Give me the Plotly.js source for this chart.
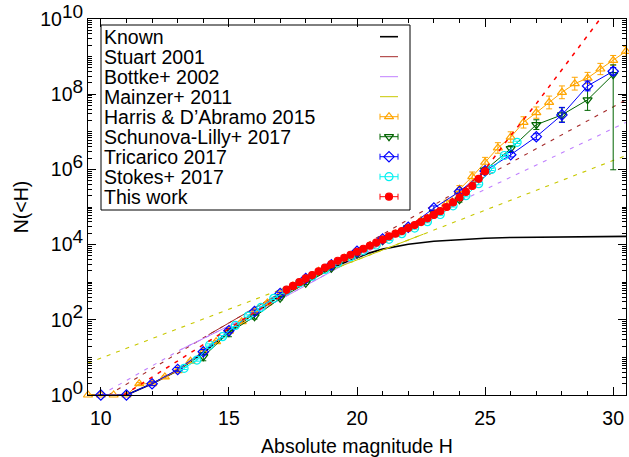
<!DOCTYPE html>
<html><head><meta charset="utf-8">
<script src="https://cdn.plot.ly/plotly-3.0.1.min.js"></script>
<style>html,body{margin:0;padding:0;background:#fff}#chart{width:629px;height:457px}</style>
</head><body><div id="chart"></div>
<script>
// ---- Data: H and log10 N(<H) ----
const knownH    = [9.5, 10, 11, 12, 13, 14, 15, 16, 17, 18, 19, 19.5, 20, 20.5, 21, 21.5, 22, 23, 24, 25, 26, 27, 28, 29, 30, 30.5];
const knownLogN = [0, 0, 0, 0.3, 0.65, 1.12, 1.68, 2.18, 2.64, 3.02, 3.38, 3.52, 3.65, 3.78, 3.88, 3.95, 4.01, 4.09, 4.14, 4.17, 4.19, 4.2, 4.21, 4.22, 4.22, 4.22];

const stuartH    = [10.3, 14.2, 18, 23.5, 30.5];
const stuartLogN = [0, 1.6, 3.1, 5.25, 7.85];
const stuartSolid = [1, 2];          // index range drawn solid

const bottkeH    = [10, 13.1, 16, 20.8, 23.8, 30.5];
const bottkeLogN = [0, 1.2, 2.17, 3.95, 5.08, 7.25];
const bottkeSolid = [1, 3];

const mainzerH    = [9.5, 17, 22.6, 30.5];
const mainzerLogN = [0.85, 2.8, 4.28, 6.37];
const mainzerSolid = [1, 2];

const harrisH    = [9.5, 10, 10.5, 11, 11.5, 12, 12.5, 13, 13.5, 14, 14.5, 15, 15.5, 16, 16.5, 17, 17.5, 18, 18.5, 19, 19.5, 20, 20.5, 21, 21.5, 22, 22.5, 23, 23.5, 24, 24.5, 25, 25.5, 26, 26.5, 27, 27.5, 28, 28.5, 29, 29.5, 30, 30.5];
const harrisLogN = [0, 0, 0, 0, 0.3, 0.3, 0.48, 0.65, 0.9, 1.15, 1.42, 1.7, 1.95, 2.2, 2.45, 2.68, 2.9, 3.1, 3.29, 3.47, 3.64, 3.8, 3.96, 4.12, 4.28, 4.45, 4.64, 4.85, 5.1, 5.47, 5.81, 6.19, 6.57, 6.86, 7.25, 7.51, 7.78, 8.05, 8.28, 8.43, 8.67, 8.9, 9.14];
const harrisErr  = [0, 0, 0, 0, 0.03, 0.03, 0.03, 0.03, 0.03, 0.03, 0.03, 0.03, 0.03, 0.03, 0.03, 0.03, 0.03, 0.03, 0.03, 0.03, 0.03, 0.03, 0.03, 0.03, 0.03, 0.04, 0.05, 0.06, 0.08, 0.1, 0.12, 0.13, 0.14, 0.14, 0.15, 0.15, 0.17, 0.17, 0.17, 0.15, 0.15, 0.13, 0.13];

const schunovaH     = [14, 15, 16, 17, 18, 19, 20, 21, 22, 23, 24, 25, 26, 27, 28, 29, 30];
const schunovaLogN  = [1.02, 1.66, 2.08, 2.57, 2.97, 3.37, 3.75, 4.1, 4.45, 4.85, 5.19, 5.98, 6.55, 7.19, 7.45, 7.85, 8.52];
const schunovaErrUp = [0.11, 0.11, 0.06, 0.04, 0.03, 0.03, 0.03, 0.03, 0.03, 0.04, 0.06, 0.06, 0.08, 0.13, 0.19, 0.28, 0.26];
const schunovaErrDn = [0.11, 0.11, 0.06, 0.04, 0.03, 0.03, 0.03, 0.03, 0.03, 0.04, 0.06, 0.06, 0.08, 0.13, 0.19, 0.28, 2.53];

const tricaricoH    = [10, 11, 12, 13, 14, 15, 16, 17, 18, 19, 20, 21, 22, 23, 24, 25, 26, 27, 28, 29, 30];
const tricaricoLogN = [0, 0, 0.3, 0.68, 1.15, 1.71, 2.22, 2.7, 3.1, 3.46, 3.82, 4.15, 4.46, 4.97, 5.41, 5.96, 6.39, 6.87, 7.45, 8.22, 8.61];
const tricaricoErr  = [0, 0, 0.05, 0.05, 0.06, 0.05, 0.04, 0.03, 0.03, 0.03, 0.03, 0.03, 0.04, 0.06, 0.05, 0.05, 0.06, 0.08, 0.2, 0.13, 0.1];

const stokesH    = [13.25, 13.75, 14.25, 14.75, 15.25, 15.75, 16.25, 16.75, 17.25, 17.75, 18.25, 18.75, 19.25, 19.75, 20.25, 20.75, 21.25, 21.75, 22.25, 22.75, 23.25, 23.75, 24.25, 24.75, 25.25, 25.75, 26.25];
const stokesLogN = [0.71, 0.93, 1.33, 1.55, 1.85, 2.1, 2.33, 2.57, 2.78, 2.98, 3.16, 3.34, 3.51, 3.68, 3.84, 3.99, 4.14, 4.29, 4.44, 4.61, 4.8, 5.03, 5.3, 5.62, 6.0, 6.37, 6.72];

const thisH    = [17.25, 17.5, 17.75, 18, 18.25, 18.5, 18.75, 19, 19.25, 19.5, 19.75, 20, 20.25, 20.5, 20.75, 21, 21.25, 21.5, 21.75, 22, 22.25, 22.5, 22.75, 23, 23.25, 23.5, 23.75, 24, 24.25, 24.5, 24.75, 25];
const thisLogN = [2.8, 2.9, 3.0, 3.1, 3.19, 3.29, 3.39, 3.48, 3.57, 3.65, 3.73, 3.81, 3.89, 3.97, 4.05, 4.13, 4.22, 4.29, 4.36, 4.44, 4.52, 4.6, 4.7, 4.79, 4.89, 5.0, 5.12, 5.25, 5.4, 5.56, 5.75, 5.95];

const fitH    = [10.9, 12, 13, 14, 15, 16, 17, 18, 19, 20, 21, 22, 23, 24, 25, 26, 27, 28, 29, 29.6];
const fitLogN = [0, 0.47, 0.9, 1.33, 1.77, 2.2, 2.6, 3.0, 3.4, 3.8, 4.15, 4.5, 4.88, 5.35, 6.0, 6.9, 7.75, 8.65, 9.55, 10.1];

const xTicks = [10, 15, 20, 25, 30];
const yTickExp = [0, 2, 4, 6, 8, 10];

const legendNames = ['Known', 'Stuart 2001', 'Bottke+ 2002', 'Mainzer+ 2011', 'Harris &amp; D\u2019Abramo 2015', 'Schunova-Lilly+ 2017', 'Tricarico 2017', 'Stokes+ 2017', 'This work'];

// ---- helpers ----
const pw = a => a.map(v => Math.pow(10, v));
const eUp = (lg, e) => lg.map((v, i) => Math.pow(10, v) * (Math.pow(10, e[i]) - 1));
const eDn = (lg, e) => lg.map((v, i) => Math.pow(10, v) * (1 - Math.pow(10, -e[i])));
const sl = (a, r) => a.slice(r[0], r[1] + 1);

const C = {known:'#000000', stuart:'#a52a2a', bottke:'#c080ff', mainzer:'#c8c800',
           harris:'#ffa500', schunova:'#006400', tricarico:'#0000ff', stokes:'#00f0f0', thiswork:'#ff0000'};
const DASH = '4px,6px';

const traces = [];
function line(x, lg, color, dash, w) {
  traces.push({x: x, y: pw(lg), type: 'scatter', mode: 'lines', showlegend: false, hoverinfo: 'skip',
    line: {color: color, width: w || 1, dash: dash || 'solid'}});
}
function series(x, lg, up, dn, color, symbol, size) {
  const t = {x: x, y: pw(lg), type: 'scatter', mode: 'lines+markers', showlegend: false, cliponaxis: false,
    line: {color: color, width: 1},
    marker: {symbol: symbol, size: size, color: color, line: {color: color, width: 1.2}}};
  if (up) t.error_y = {type: 'data', symmetric: false, array: eUp(lg, up), arrayminus: eDn(lg, dn || up),
    color: color, thickness: 1, width: 3};
  traces.push(t);
}

line(knownH, knownLogN, C.known, 'solid', 1.6);
line(stuartH, stuartLogN, C.stuart, DASH, 1.1);
line(sl(stuartH, stuartSolid), sl(stuartLogN, stuartSolid), C.stuart);
line(bottkeH, bottkeLogN, C.bottke, DASH, 1.1);
line(sl(bottkeH, bottkeSolid), sl(bottkeLogN, bottkeSolid), C.bottke);
line(mainzerH, mainzerLogN, C.mainzer, DASH, 1.1);
line(sl(mainzerH, mainzerSolid), sl(mainzerLogN, mainzerSolid), C.mainzer);

series(harrisH, harrisLogN, harrisErr, null, C.harris, 'triangle-up-open', 8);
series(schunovaH, schunovaLogN, schunovaErrUp, schunovaErrDn, C.schunova, 'triangle-down-open', 8);
series(tricaricoH, tricaricoLogN, tricaricoErr, null, C.tricarico, 'diamond-open', 8);
series(stokesH, stokesLogN, stokesLogN.map(() => 0.03), null, C.stokes, 'circle-open', 8);
line(fitH, fitLogN, C.thiswork, DASH, 1.5);
series(thisH, thisLogN, thisLogN.map(() => 0.02), null, C.thiswork, 'circle', 7);

// ---- key (gnuplot style: text left, sample right) in pixel coordinates of the plot area ----
const L = {x0: 101, x1: 410, y0: 25, y1: 210, textX: 102, row0: 36.7, dy: 20, sx0: 380, sx1: 398};
const legendStyle = [
  {c: C.known, w: 1.6}, {c: C.stuart}, {c: C.bottke}, {c: C.mainzer},
  {c: C.harris, s: 'triangle-up-open', z: 8}, {c: C.schunova, s: 'triangle-down-open', z: 8},
  {c: C.tricarico, s: 'diamond-open', z: 8}, {c: C.stokes, s: 'circle-open', z: 8}, {c: C.thiswork, s: 'circle', z: 7}
];
const annotations = [];
legendNames.forEach((name, i) => {
  const yy = L.row0 + L.dy * i;
  const st = legendStyle[i];
  annotations.push({xref: 'x2', yref: 'y2', x: L.textX, y: yy, xanchor: 'left', yanchor: 'middle',
    text: name, showarrow: false, font: {size: 19.5, color: '#000'}});
  if (!st.s) {
    traces.push({x: [L.sx0, L.sx1], y: [yy, yy], xaxis: 'x2', yaxis: 'y2', mode: 'lines', showlegend: false,
      hoverinfo: 'skip', line: {color: st.c, width: st.w || 1}});
  } else {
    traces.push({x: [(L.sx0 + L.sx1) / 2], y: [yy], xaxis: 'x2', yaxis: 'y2', mode: 'markers', showlegend: false,
      hoverinfo: 'skip', marker: {symbol: st.s, size: st.z, color: st.c, line: {color: st.c, width: 1.2}},
      error_x: {type: 'constant', value: (L.sx1 - L.sx0) / 2, color: st.c, thickness: 1, width: 3}});
  }
});

const yMinor = [];
for (let k = 0; k < 10; k++) {
  for (let m = 2; m <= 9; m++) yMinor.push(m * Math.pow(10, k));
  if (k % 2 === 1) yMinor.push(Math.pow(10, k));
}

const layout = {
  width: 629, height: 457,
  margin: {l: 88, r: 3, t: 19, b: 62},
  paper_bgcolor: '#fff', plot_bgcolor: '#fff',
  font: {family: '"Liberation Sans", Arial, sans-serif', size: 19.5, color: '#000'},
  showlegend: false,
  xaxis: {
    range: [9.5, 30.5], showgrid: false, zeroline: false,
    showline: true, linecolor: '#000', linewidth: 1, mirror: 'allticks',
    ticks: 'inside', ticklen: 8, tickcolor: '#000', tickwidth: 1,
    tickmode: 'array', tickvals: xTicks, ticktext: xTicks.map(String),
    ticklabelstandoff: 6,
    minor: {tickmode: 'linear', tick0: 0, dtick: 1, ticks: 'inside', ticklen: 4, tickcolor: '#000'},
    title: {text: 'Absolute magnitude H', font: {size: 19.5}, standoff: 16}
  },
  yaxis: {
    type: 'log', range: [0, 10], showgrid: false, zeroline: false,
    showline: true, linecolor: '#000', linewidth: 1, mirror: 'allticks',
    ticks: 'inside', ticklen: 8, tickcolor: '#000', tickwidth: 1,
    tickmode: 'array', tickvals: pw(yTickExp),
    ticktext: yTickExp.map(e => '10<sup><span style="font-size:19px">' + e + '</span></sup>'),
    minor: {tickmode: 'array', tickvals: yMinor, ticks: 'inside', ticklen: 4, tickcolor: '#000'},
    title: {text: 'N(&lt;H)', font: {size: 19.5}, standoff: 6}
  },
  xaxis2: {overlaying: 'x', range: [88, 626], visible: false, fixedrange: true},
  yaxis2: {overlaying: 'y', range: [395, 19], visible: false, fixedrange: true},
  shapes: [{type: 'rect', xref: 'x2', yref: 'y2', x0: L.x0, x1: L.x1, y0: L.y0, y1: L.y1,
    line: {color: '#000', width: 1}, fillcolor: '#fff', layer: 'below'}],
  annotations: annotations
};

Plotly.newPlot('chart', traces, layout, {staticPlot: true, displayModeBar: false});
</script>
</body></html>
